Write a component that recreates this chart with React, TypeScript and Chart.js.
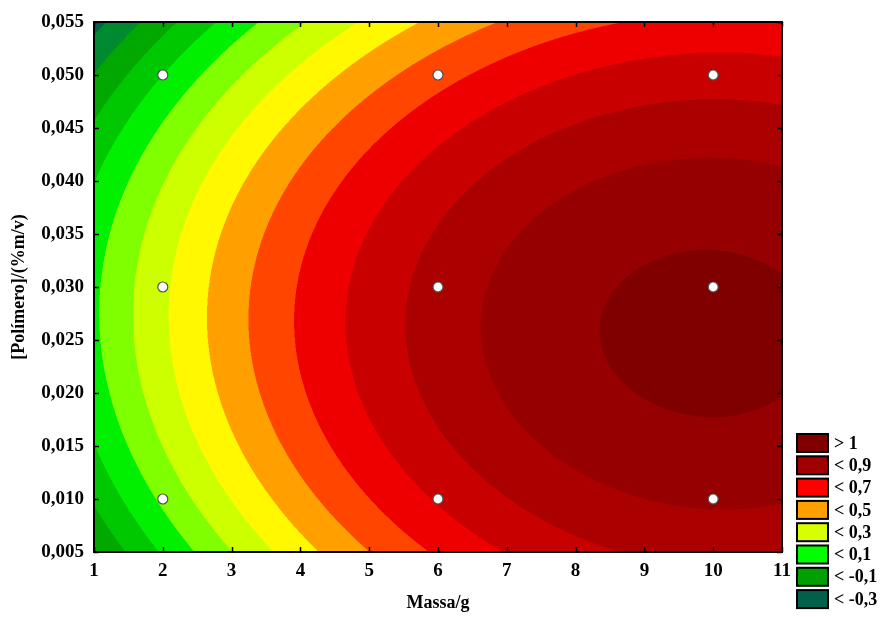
import React, { useEffect, useRef } from "react";
import { Chart, registerables } from "chart.js";

Chart.register(...registerables);

// ---- data ----
const massaTicks = [1, 2, 3, 4, 5, 6, 7, 8, 9, 10, 11];
const polimeroTicks = [0.005, 0.01, 0.015, 0.02, 0.025, 0.03, 0.035, 0.04, 0.045, 0.05, 0.055];

// 3x3 factorial design levels
const massaLevels = [2, 6, 10];
const polimeroLevels = [0.01, 0.03, 0.05];

// response at each design point (read from the map), one list per Massa level,
// ordered by Polímero level 0.01, 0.03, 0.05
const responseMassa2 = [0.12, 0.28, 0.0];
const responseMassa6 = [0.71, 0.84, 0.56];
const responseMassa10 = [0.915, 1.02, 0.75];

const contourLevels = [-0.3, -0.2, -0.1, 0, 0.1, 0.2, 0.3, 0.4, 0.5, 0.6, 0.7, 0.8, 0.9, 1.0];
const bandColors = [
  "#00604a", "#008a30", "#00a800", "#00c800", "#00f000", "#80ff00", "#ccff00",
  "#fff800", "#ffa000", "#ff4500", "#ee0000", "#c80000", "#aa0000", "#960000", "#800000",
];

const legendLabels = ["> 1", "< 0,9", "< 0,7", "< 0,5", "< 0,3", "< 0,1", "< -0,1", "< -0,3"];
const legendColors = ["#800000", "#a00000", "#ff0000", "#ffa000", "#d8ff00", "#00ff00", "#00a000", "#00604a"];

const FONT = "'Liberation Serif', 'Times New Roman', serif";

// full 3^2 factorial model (quadratic in each factor incl. all interactions),
// evaluated through Lagrange basis on the design levels
function lagrange3(nodes: number[], t: number): number[] {
  const [a, b, c] = nodes;
  return [
    ((t - b) * (t - c)) / ((a - b) * (a - c)),
    ((t - a) * (t - c)) / ((b - a) * (b - c)),
    ((t - a) * (t - b)) / ((c - a) * (c - b)),
  ];
}
const responseTable = [responseMassa2, responseMassa6, responseMassa10];
function surface(x: number, y: number): number {
  const lx = lagrange3(massaLevels, x);
  const ly = lagrange3(polimeroLevels, y);
  let z = 0;
  for (let i = 0; i < 3; i++) for (let j = 0; j < 3; j++) z += responseTable[i][j] * lx[i] * ly[j];
  return z;
}

function hexToRgb(h: string): number[] {
  const n = parseInt(h.slice(1), 16);
  return [(n >> 16) & 255, (n >> 8) & 255, n & 255];
}

const surfacePlugin = {
  id: "surfacePlugin",
  beforeDatasetsDraw(chart: any) {
    const { ctx, chartArea, scales } = chart;
    const { left, top, right, bottom } = chartArea;
    const xs = scales.x;
    const ys = scales.y;
    const w = Math.round(right - left);
    const h = Math.round(bottom - top);
    const ss = 2;
    const W = w * ss;
    const H = h * ss;
    const off = document.createElement("canvas");
    off.width = W;
    off.height = H;
    const octx = off.getContext("2d")!;
    const img = octx.createImageData(W, H);
    const rgb = bandColors.map(hexToRgb);
    const xv: number[] = [];
    for (let i = 0; i < W; i++) xv.push(xs.getValueForPixel(left + (i + 0.5) / ss));
    for (let j = 0; j < H; j++) {
      const yv = ys.getValueForPixel(top + (j + 0.5) / ss);
      for (let i = 0; i < W; i++) {
        const z = surface(xv[i], yv);
        let b = 0;
        while (b < contourLevels.length && z >= contourLevels[b]) b++;
        const col = rgb[b];
        const p = (j * W + i) * 4;
        img.data[p] = col[0];
        img.data[p + 1] = col[1];
        img.data[p + 2] = col[2];
        img.data[p + 3] = 255;
      }
    }
    octx.putImageData(img, 0, 0);
    ctx.save();
    ctx.imageSmoothingEnabled = true;
    (ctx as any).imageSmoothingQuality = "high";
    ctx.drawImage(off, left, top, w, h);
    ctx.restore();
  },
  afterDatasetsDraw(chart: any) {
    const { ctx, chartArea, scales } = chart;
    const { left, top, right, bottom } = chartArea;
    ctx.save();
    ctx.strokeStyle = "#000";
    ctx.lineWidth = 1.5;
    const tl = 5;
    ctx.beginPath();
    massaTicks.forEach((t) => {
      const px = Math.round(scales.x.getPixelForValue(t)) + 0.5;
      ctx.moveTo(px, bottom);
      ctx.lineTo(px, bottom - tl);
      ctx.moveTo(px, top);
      ctx.lineTo(px, top + tl);
    });
    polimeroTicks.forEach((t) => {
      const py = Math.round(scales.y.getPixelForValue(t)) + 0.5;
      ctx.moveTo(left, py);
      ctx.lineTo(left + tl, py);
      ctx.moveTo(right, py);
      ctx.lineTo(right - tl, py);
    });
    ctx.stroke();
    ctx.lineWidth = 2;
    ctx.strokeRect(left, top, right - left, bottom - top);
    ctx.restore();
  },
  afterDraw(chart: any) {
    const { ctx } = chart;
    ctx.save();
    const bx = 797;
    const by0 = 434;
    const bw = 31;
    const bh = 18;
    const step = 22.3;
    ctx.font = `bold 18px ${FONT}`;
    ctx.textBaseline = "middle";
    ctx.textAlign = "left";
    legendLabels.forEach((lab, i) => {
      const by = by0 + i * step;
      ctx.fillStyle = legendColors[i];
      ctx.fillRect(bx, by, bw, bh);
      ctx.strokeStyle = "#000";
      ctx.lineWidth = 2;
      ctx.strokeRect(bx, by, bw, bh);
      ctx.fillStyle = "#000";
      ctx.fillText(lab, bx + bw + 6, by + bh / 2 + 1);
    });
    ctx.restore();
  },
};

export default function App() {
  const ref = useRef<HTMLCanvasElement | null>(null);
  useEffect(() => {
    document.body.style.margin = "0";
    const canvas = ref.current!;
    const points: { x: number; y: number }[] = [];
    massaLevels.forEach((m) => polimeroLevels.forEach((p) => points.push({ x: m, y: p })));
    const chart = new Chart(canvas, {
      type: "scatter",
      data: {
        datasets: [
          {
            label: "Planejamento",
            data: points,
            pointRadius: 5,
            pointHoverRadius: 5,
            pointBackgroundColor: "#ffffff",
            pointBorderColor: "#505050",
            pointBorderWidth: 1.2,
          },
        ],
      },
      options: {
        animation: false,
        responsive: false,
        events: [],
        layout: { padding: { top: 22, right: 102, left: 0, bottom: 0 } },
        plugins: { legend: { display: false }, tooltip: { enabled: false } },
        scales: {
          x: {
            type: "linear",
            min: 1,
            max: 11,
            grid: { display: false, drawTicks: false },
            border: { display: false },
            afterBuildTicks: (s: any) => {
              s.ticks = massaTicks.map((v) => ({ value: v }));
            },
            afterFit: (s: any) => {
              s.height = 65;
            },
            ticks: {
              color: "#000",
              padding: 8,
              maxRotation: 0,
              font: { family: FONT, size: 19, weight: "bold" },
              callback: (v: any) => String(v),
            },
            title: {
              display: true,
              text: "Massa/g",
              color: "#000",
              font: { family: FONT, size: 18, weight: "bold" },
              padding: { top: 0, bottom: 3 },
            },
          },
          y: {
            type: "linear",
            min: 0.005,
            max: 0.055,
            grid: { display: false, drawTicks: false },
            border: { display: false },
            afterBuildTicks: (s: any) => {
              s.ticks = polimeroTicks.map((v) => ({ value: v }));
            },
            afterFit: (s: any) => {
              s.width = 94;
            },
            ticks: {
              color: "#000",
              padding: 10,
              font: { family: FONT, size: 19, weight: "bold" },
              callback: (v: any) => Number(v).toFixed(3).replace(".", ","),
            },
            title: {
              display: true,
              text: "[Polímero]/(%m/v)",
              color: "#000",
              font: { family: FONT, size: 18, weight: "bold" },
              padding: { top: 9, bottom: 0 },
            },
          },
        },
      },
      plugins: [surfacePlugin],
    } as any);
    return () => chart.destroy();
  }, []);
  return (
    <div style={{ width: 884, height: 617, background: "#fff" }}>
      <canvas ref={ref} width={884} height={617} style={{ display: "block" }} />
    </div>
  );
}
